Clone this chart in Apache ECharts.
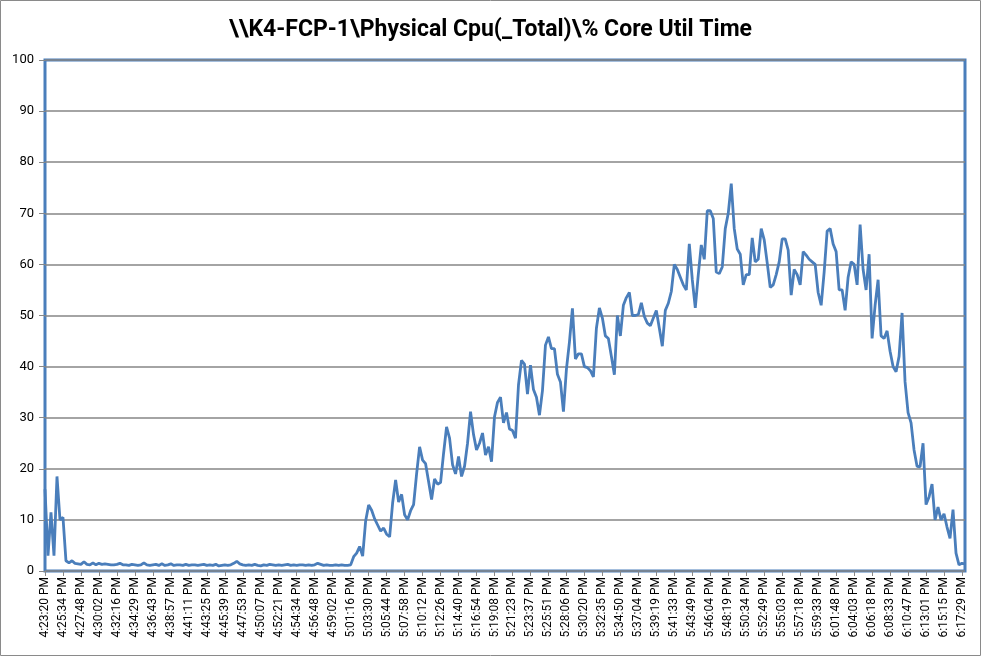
<!DOCTYPE html>
<html>
<head>
<meta charset="utf-8">
<script src="https://cdn.jsdelivr.net/npm/echarts@6/dist/echarts.min.js"></script>
<style>
html,body{margin:0;padding:0;background:#fff;}
#chart{width:981px;height:656px;}
</style>
</head>
<body>
<div id="chart"></div>
<script>
// Tick labels (every 6th sample)
var tickLabels = ["4:23:20 PM","4:25:34 PM","4:27:48 PM","4:30:02 PM","4:32:16 PM","4:34:29 PM","4:36:43 PM","4:38:57 PM","4:41:11 PM","4:43:25 PM","4:45:39 PM","4:47:53 PM","4:50:07 PM","4:52:21 PM","4:54:34 PM","4:56:48 PM","4:59:02 PM","5:01:16 PM","5:03:30 PM","5:05:44 PM","5:07:58 PM","5:10:12 PM","5:12:26 PM","5:14:40 PM","5:16:54 PM","5:19:08 PM","5:21:23 PM","5:23:37 PM","5:25:51 PM","5:28:06 PM","5:30:20 PM","5:32:35 PM","5:34:50 PM","5:37:04 PM","5:39:19 PM","5:41:33 PM","5:43:49 PM","5:46:04 PM","5:48:19 PM","5:50:34 PM","5:52:49 PM","5:55:03 PM","5:57:18 PM","5:59:33 PM","6:01:48 PM","6:04:03 PM","6:06:18 PM","6:08:33 PM","6:10:47 PM","6:13:01 PM","6:15:15 PM","6:17:29 PM"];

// Series values (% Core Util Time)
var startBurst = [16,3,11.5,3,18.5,10,10.5,2.0];
var idle = [1.6,2.0,1.5,1.4,1.3,1.8,1.3,1.2,1.6,1.2,1.5,1.3,1.4,1.3,1.2,1.2,1.3,1.5,1.2,1.2,1.1,1.3,1.2,1.1,1.2,1.6,1.2,1.1,1.2,1.3,1.1,1.4,1.1,1.2,1.4,1.1,1.2,1.2,1.1,1.3,1.1,1.2,1.2,1.1,1.2,1.3,1.1,1.2,1.1,1.3,1.0,1.1,1.2,1.1,1.2,1.5,1.9,1.4,1.2,1.1,1.2,1.1,1.3,1.1,1.0,1.2,1.1,1.3,1.2,1.1,1.2,1.1,1.2,1.3,1.1,1.2,1.1,1.2,1.2,1.1,1.2,1.1,1.2,1.5,1.3,1.1,1.2,1.1,1.1,1.2,1.1,1.2,1.1,1.1,1.2];
var rampUp = [2.8,3.5,4.8,2.9,9.8,12.9,11.9,10.2,9.0,7.8,8.4,7.2,6.7,13.3,17.8,13.5,15.0,11.0,10.0,11.8,13.0,19.0,24.3,21.7,21.0,17.5,14.0,18.0,17.0,17.3,23.0,28.2,26.0,20.8,19.0,22.4,18.5,20.5,25.0,31.2,26.7,23.7,25.0,27.0,22.7,24.3,21.4,30.2,33.0,34.0,29.0,31.0,27.8,27.5,26.0,36.4,41.2,40.5,34.6,40.3,35.5,34.0,30.5,35.3,44.2,45.8,43.5,43.5,38.5,37.0,31.2,39.5,44.8,51.4,41.5,42.5,42.5,40.0,39.8,39.2,38.0,47.5,51.5,49.5,46.0,45.5,42.0,38.4,50.0,46.0,52.0,53.5,54.5,50.0,50.0,50.2,52.5,49.8,48.5,48.0,49.5,51.0,47.5,44.0,51.0,52.4,54.7];
var plateau = [60.0,59.0,57.5,56.0,55.0,64.0,57.0,51.5,58.0,63.8,61.0,70.5,70.5,69.0,58.5,58.2,59.5,67.0,70.0,75.8,67.0,63.0,62.0,56.0,58.0,58.0,65.2,60.5,61.0,67.0,64.8,60.3,55.5,56.0,58.0,60.5,65.0,65.0,62.8,54.0,59.0,58.0,56.0,62.5,61.8,61.0,60.5,60.0,54.5,52.0,58.5,66.5,67.0,64.0,62.5,55.0,55.0,51.0,57.5,60.5,60.0,56.0,67.8,59.0,55.0,62.0];
var rampDown = [45.5,52.0,57.0,46.0,45.5,47.0,43.0,40.0,39.0,42.0,50.5,37.0,31.0,29.0,23.7,20.5,20.4,25.0,13.0,14.5,17.0,10.0,12.5,10.0,11.2,8.6,6.4,12.0,3.5,1.2,1.5,1.4];

var values = startBurst.concat(idle, rampUp, plateau, rampDown);
var PER_TICK = 6;

function toSec(s){
  var p = s.split(' ')[0].split(':');
  var h = +p[0]; if (h < 12) h += 12;
  return h*3600 + (+p[1])*60 + (+p[2]);
}
function fmt(t){
  t = Math.round(t);
  var h = Math.floor(t/3600), m = Math.floor((t%3600)/60), s = t%60;
  var hh = h > 12 ? h - 12 : h;
  return hh + ':' + (m<10?'0':'') + m + ':' + (s<10?'0':'') + s + ' PM';
}
var tickSec = tickLabels.map(toSec);
var categories = values.map(function(v, i){
  var k = Math.floor(i / PER_TICK), r = i % PER_TICK;
  if (r === 0 && k < tickLabels.length) return tickLabels[k];
  if (k < tickLabels.length - 1) return fmt(tickSec[k] + (tickSec[k+1]-tickSec[k]) * r / PER_TICK);
  return fmt(tickSec[tickSec.length-1] + r * 22.4);
});

var chart = echarts.init(document.getElementById('chart'), null, {renderer:'canvas'});
chart.setOption({
  animation: false,
  backgroundColor: '#ffffff',
  title: {
    text: '\\\\K4-FCP-1\\Physical Cpu(_Total)\\% Core Util Time',
    left: 'center',
    top: 14,
    textStyle: {fontSize: 23, fontWeight: 'bold', color: '#000', fontFamily: "'Liberation Sans Narrow', Roboto, sans-serif"}
  },
  graphic: [{
    type: 'rect', silent: true, z: -10,
    shape: {x: 0.5, y: 0.5, width: 980, height: 655},
    style: {fill: 'none', stroke: '#8a8a8a', lineWidth: 1}
  }],
  grid: {
    left: 45, right: 16, top: 60, bottom: 85,
    show: true, borderColor: '#4a7ebb', borderWidth: 3, backgroundColor: '#fff'
  },
  xAxis: {
    type: 'category',
    data: categories,
    boundaryGap: false,
    axisLine: {show: false},
    axisTick: {show: true, interval: PER_TICK - 1, length: 5, lineStyle: {color: '#888', width: 1}},
    axisLabel: {interval: PER_TICK - 1, rotate: 90, fontSize: 12, color: '#000', margin: 6, fontFamily: 'Roboto, sans-serif'},
    splitLine: {show: false}
  },
  yAxis: {
    type: 'value',
    min: 0, max: 100, interval: 10,
    axisLine: {show: false},
    axisTick: {show: true, length: 6, lineStyle: {color: '#888', width: 1}},
    axisLabel: {fontSize: 13, color: '#000', margin: 11, fontFamily: 'Roboto, sans-serif'},
    splitLine: {show: true, lineStyle: {color: '#868686', width: 1.5}}
  },
  series: [{
    type: 'line',
    data: values,
    showSymbol: false,
    symbol: 'none',
    smooth: false,
    lineStyle: {color: '#4a7ebb', width: 2.8},
    z: 5
  }]
});
</script>
</body>
</html>
